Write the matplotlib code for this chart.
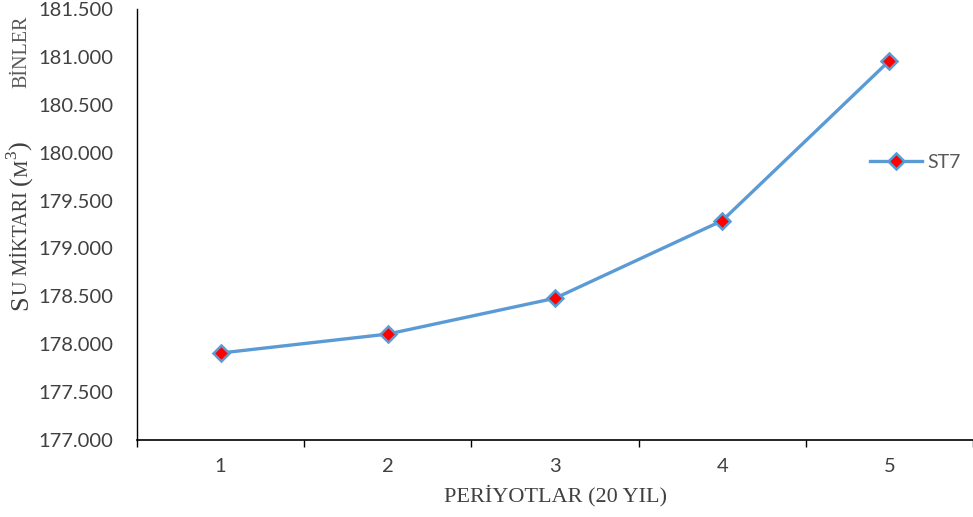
import matplotlib.pyplot as plt
import numpy as np

periods = [1, 2, 3, 4, 5]
st7 = [177.908, 178.106, 178.480, 179.290, 180.960]
yticks = [177.0, 177.5, 178.0, 178.5, 179.0, 179.5, 180.0, 180.5, 181.0, 181.5]

W, H = 973, 517
fig = plt.figure(figsize=(W / 100, H / 100), dpi=100)
ax = fig.add_axes([137 / W, 1 - 440 / H, 1 - 137 / W, (440 - 9) / H])

ax.plot(periods, st7, color="#5B9BD5", lw=2.4, marker="D", ms=8.5,
        mfc="#FF0000", mec="#5B9BD5", mew=1.8, label="ST7")

ax.set_xlim(0.5, 5.5)
ax.set_ylim(177.0, 181.5)
ax.set_yticks(yticks)
ax.set_yticklabels(["%.3f" % v for v in yticks])
ax.set_xticks(periods)
ax.set_xticks(np.arange(0.5, 5.6, 1.0), minor=True)
ax.tick_params(axis="x", which="major", length=0, pad=13)
ax.tick_params(axis="x", which="minor", length=5, width=1, color="black", direction="out")
ax.tick_params(axis="y", length=0, pad=17)
for lab in ax.get_xticklabels() + ax.get_yticklabels():
    lab.set_fontfamily("Lato")
    lab.set_fontsize(14.5)
    lab.set_color("#404040")

for s in ["top", "right"]:
    ax.spines[s].set_visible(False)
ax.spines["left"].set_color("black")
ax.spines["bottom"].set_color("black")
ax.spines["left"].set_linewidth(1.0)
ax.spines["bottom"].set_linewidth(1.2)

leg = ax.legend(loc="center left", bbox_to_anchor=(852 / W, 1 - 162 / H),
                bbox_transform=fig.transFigure, frameon=False,
                prop={"family": "Lato", "size": 14}, handlelength=2.7,
                handletextpad=0.25)
for t in leg.get_texts():
    t.set_color("#595959")

fig.text(556 / W, 1 - 496 / H, "PERİYOTLAR (20 YIL)", ha="center", va="center",
         family="Liberation Serif", fontsize=16, color="#404040")

fig.text(26 / W, 1 - 88 / H, "BİNLER", rotation=90, rotation_mode="anchor",
         ha="left", va="baseline", family="Liberation Serif", fontsize=14.5,
         color="#595959")

# y label with small caps, built piece by piece
pieces = [("S", 19, 0), ("U MİKTARI ", 14.5, 0), ("(", 19, 0),
          ("M", 14, 0), ("3", 12.5, -11), (")", 19, 0)]
renderer = fig.canvas.get_renderer()
ypos = 1 - 310 / H
for txt, size, dx in pieces:
    fig.text((27 + dx) / W, ypos, txt, rotation=90, rotation_mode="anchor",
             ha="left", va="baseline", family="Liberation Serif",
             fontsize=size, color="#404040")
    tmp = fig.text(0, 0, txt.replace(" ", "i"), fontsize=size, family="Liberation Serif")
    w = tmp.get_window_extent(renderer).width
    tmp.remove()
    ypos += w / H

fig.savefig("out.png", dpi=100)
